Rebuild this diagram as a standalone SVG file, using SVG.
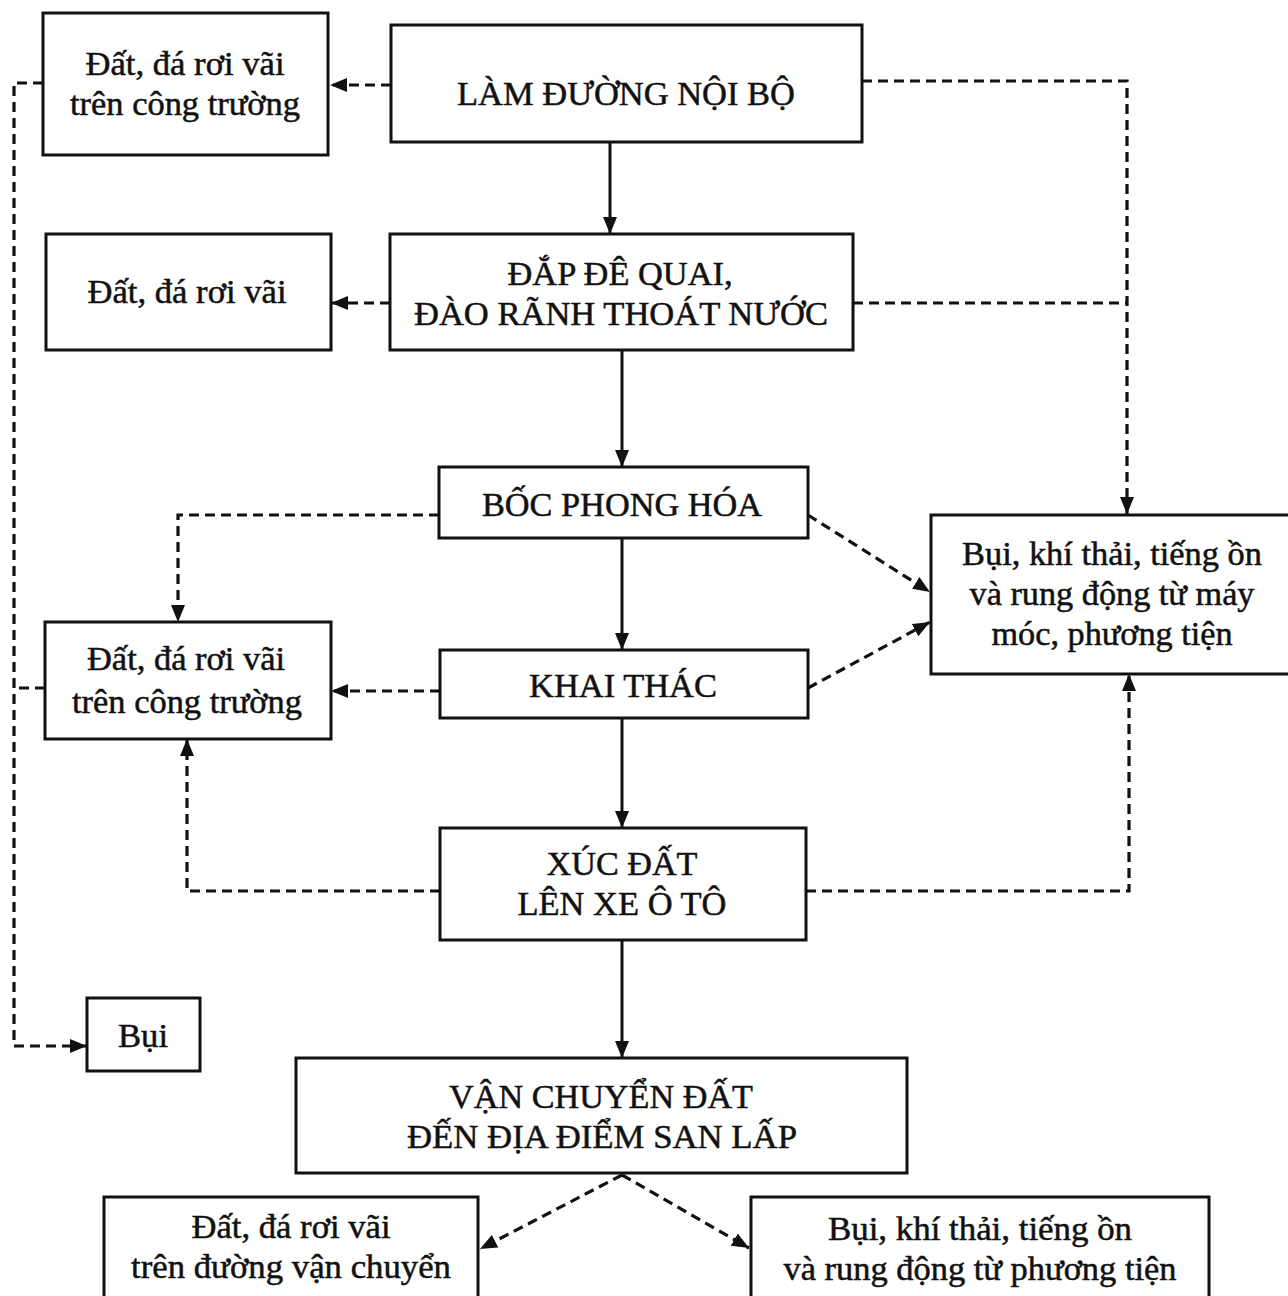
<svg xmlns="http://www.w3.org/2000/svg" width="1288" height="1296" viewBox="0 0 1288 1296">
<style>
.box{fill:#fff;stroke:#111;stroke-width:3}
.t{font-family:"Liberation Serif","Times New Roman",serif;font-size:33px;fill:#111;stroke:#111;stroke-width:0.5;text-anchor:middle}
.solid{fill:none;stroke:#111;stroke-width:3}
.dash{fill:none;stroke:#111;stroke-width:3.2;stroke-dasharray:10 6}
</style>
<defs>
<marker id="ah" viewBox="0 0 17 14" refX="17" refY="7" markerWidth="17" markerHeight="14" markerUnits="userSpaceOnUse" orient="auto">
<path d="M0,0 L17,7 L0,14 z" fill="#111"/>
</marker>
</defs>
<rect width="1288" height="1296" fill="#fff"/>
<g id="connectors">
<path class="solid" d="M610,142 V234" marker-end="url(#ah)"/>
<path class="solid" d="M622,350 V467" marker-end="url(#ah)"/>
<path class="solid" d="M622,538 V650" marker-end="url(#ah)"/>
<path class="solid" d="M622,718 V828" marker-end="url(#ah)"/>
<path class="solid" d="M622,940 V1058" marker-end="url(#ah)"/>
<path class="dash" d="M391,85 H330" marker-end="url(#ah)"/>
<path class="dash" d="M862,81 H1127 V514" marker-end="url(#ah)"/>
<path class="dash" d="M853,303 H1127"/>
<path class="dash" d="M390,303 H331" marker-end="url(#ah)"/>
<path class="dash" d="M43,83 H14 V1046 H87" marker-end="url(#ah)"/>
<path class="dash" d="M45,688 H14"/>
<path class="dash" d="M439,515 H178 V622" marker-end="url(#ah)"/>
<path class="dash" d="M440,691 H331" marker-end="url(#ah)"/>
<path class="dash" d="M440,891 H187 V739" marker-end="url(#ah)"/>
<path class="dash" d="M808,515 L930,592" marker-end="url(#ah)"/>
<path class="dash" d="M808,688 L930,622" marker-end="url(#ah)"/>
<path class="dash" d="M806,891 H1129 V674" marker-end="url(#ah)"/>
<path class="dash" d="M622,1175 L480,1249" marker-end="url(#ah)"/>
<path class="dash" d="M622,1175 L749,1248" marker-end="url(#ah)"/>
</g>
<g id="n-dat1">
<rect class="box" x="43" y="13" width="285" height="142"/>
<text class="t" x="185" y="75" textLength="199" lengthAdjust="spacingAndGlyphs">Đất, đá rơi vãi</text>
<text class="t" x="185" y="115" textLength="230" lengthAdjust="spacingAndGlyphs">trên công trường</text>
</g>
<g id="n-lam">
<rect class="box" x="391" y="25" width="471" height="117"/>
<text class="t" x="626" y="105" textLength="338" lengthAdjust="spacingAndGlyphs">LÀM ĐƯỜNG NỘI BỘ</text>
</g>
<g id="n-dat2">
<rect class="box" x="46" y="234" width="285" height="116"/>
<text class="t" x="187" y="303" textLength="199" lengthAdjust="spacingAndGlyphs">Đất, đá rơi vãi</text>
</g>
<g id="n-dap">
<rect class="box" x="390" y="234" width="463" height="116"/>
<text class="t" x="620" y="285" textLength="225" lengthAdjust="spacingAndGlyphs">ĐẮP ĐÊ QUAI,</text>
<text class="t" x="621" y="325" textLength="414" lengthAdjust="spacingAndGlyphs">ĐÀO RÃNH THOÁT NƯỚC</text>
</g>
<g id="n-boc">
<rect class="box" x="439" y="467" width="369" height="71"/>
<text class="t" x="622" y="516" textLength="280" lengthAdjust="spacingAndGlyphs">BỐC PHONG HÓA</text>
</g>
<g id="n-khai">
<rect class="box" x="440" y="650" width="368" height="68"/>
<text class="t" x="623" y="697" textLength="188" lengthAdjust="spacingAndGlyphs">KHAI THÁC</text>
</g>
<g id="n-xuc">
<rect class="box" x="440" y="828" width="366" height="112"/>
<text class="t" x="622" y="875" textLength="151" lengthAdjust="spacingAndGlyphs">XÚC ĐẤT</text>
<text class="t" x="622" y="915" textLength="209" lengthAdjust="spacingAndGlyphs">LÊN XE Ô TÔ</text>
</g>
<g id="n-dat3">
<rect class="box" x="45" y="622" width="286" height="117"/>
<text class="t" x="186" y="670" textLength="198" lengthAdjust="spacingAndGlyphs">Đất, đá rơi vãi</text>
<text class="t" x="187" y="713" textLength="230" lengthAdjust="spacingAndGlyphs">trên công trường</text>
</g>
<g id="n-bui-right">
<rect class="box" x="931" y="515" width="362" height="159"/>
<text class="t" x="1112" y="565" textLength="300" lengthAdjust="spacingAndGlyphs">Bụi, khí thải, tiếng ồn</text>
<text class="t" x="1112" y="605" textLength="285" lengthAdjust="spacingAndGlyphs">và rung động từ máy</text>
<text class="t" x="1112" y="645" textLength="241" lengthAdjust="spacingAndGlyphs">móc, phương tiện</text>
</g>
<g id="n-bui">
<rect class="box" x="87" y="998" width="113" height="73"/>
<text class="t" x="143" y="1047" textLength="50" lengthAdjust="spacingAndGlyphs">Bụi</text>
</g>
<g id="n-van">
<rect class="box" x="296" y="1058" width="611" height="115"/>
<text class="t" x="601" y="1108" textLength="304" lengthAdjust="spacingAndGlyphs">VẬN CHUYỂN ĐẤT</text>
<text class="t" x="602" y="1148" textLength="390" lengthAdjust="spacingAndGlyphs">ĐẾN ĐỊA ĐIỂM SAN LẤP</text>
</g>
<g id="n-dat-road">
<rect class="box" x="104" y="1197" width="374" height="130"/>
<text class="t" x="291" y="1238" textLength="199" lengthAdjust="spacingAndGlyphs">Đất, đá rơi vãi</text>
<text class="t" x="291" y="1278" textLength="320" lengthAdjust="spacingAndGlyphs">trên đường vận chuyển</text>
</g>
<g id="n-bui-vehicle">
<rect class="box" x="751" y="1197" width="458" height="130"/>
<text class="t" x="980" y="1240" textLength="304" lengthAdjust="spacingAndGlyphs">Bụi, khí thải, tiếng ồn</text>
<text class="t" x="980" y="1280" textLength="393" lengthAdjust="spacingAndGlyphs">và rung động từ phương tiện</text>
</g>
</svg>
